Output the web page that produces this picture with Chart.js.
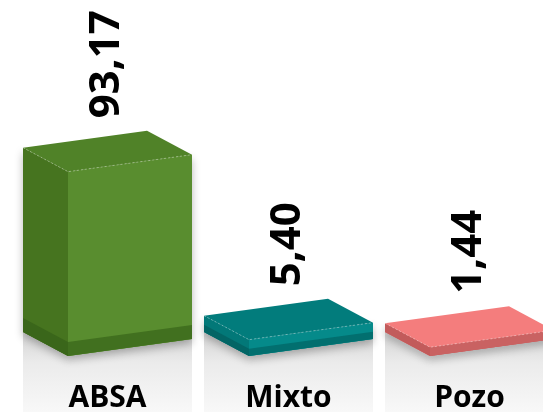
<!doctype html>
<html lang="es">
<head>
    <meta charset="utf-8">
    <title>ABSA / Mixto / Pozo</title>
    <style>
        * { margin: 0; padding: 0; }
        body { background: #fff; }
        .chartBox { width: 543px; height: 412px; }
    </style>
</head>
<body>
    <div class="chartBox">
        <canvas id="myChart"></canvas>
    </div>
    <script src="https://cdn.jsdelivr.net/npm/chart.js/dist/chart.umd.min.js"></script>
    <script>
        // data
        const categories = ['ABSA', 'Mixto', 'Pozo'];
        const values = [93.17, 5.40, 1.44];

        // colours per bar: front, left side, top, dark band front, dark band side
        const frontColors = ['#598d2f', '#058a8a', '#c96262'];
        const sideColors = ['#46741f', '#027878', '#d46d6d'];
        const topColors = ['#508228', '#027c7c', '#f47d7d'];
        const bandColors = ['#41701f', '#026f6f', '#c96262'];
        const bandSideColors = ['#3a661a', '#026565', '#c25b5b'];

        // 3d look
        const DX = 45, DY = 24, SLANT = 17, SLAB = 6, SHIFT = 39.5;

        function poly(ctx, pts, fill) {
            ctx.beginPath();
            ctx.moveTo(pts[0][0], pts[0][1]);
            for (let k = 1; k < pts.length; k++) ctx.lineTo(pts[k][0], pts[k][1]);
            ctx.closePath();
            ctx.fillStyle = fill;
            ctx.fill();
        }

        function geom(bar) {
            const w = bar.width;
            const xL = bar.x - w / 2 + SHIFT;
            const xR = xL + w;
            const yB = bar.base;
            const yT = bar.y - SLAB;
            return { xL, xR, yB, yT, h: yB - yT };
        }

        const bars3d = {
            id: 'bars3d',
            beforeDraw(chart) {
                const { ctx } = chart;
                const H = chart.height;
                const meta = chart.getDatasetMeta(0);
                ctx.save();
                meta.data.forEach((bar) => {
                    const { xL, xR, yB } = geom(bar);
                    const grad = ctx.createLinearGradient(0, yB - 20, 0, H);
                    grad.addColorStop(0, '#d6d6d6');
                    grad.addColorStop(0.35, '#ebebeb');
                    grad.addColorStop(1, '#f8f8f8');
                    poly(ctx, [[xL - DX, yB - DY], [xL, yB], [xR, yB - SLANT], [xR, H], [xL - DX, H]], grad);
                });
                ctx.restore();
            },
            afterDatasetsDraw(chart) {
                const { ctx } = chart;
                const meta = chart.getDatasetMeta(0);
                meta.data.forEach((bar, i) => {
                    const { xL, xR, yB, yT, h } = geom(bar);
                    const band = h < 12 ? h : Math.min(14, h * 0.45);

                    const front = [[xL, yB], [xR, yB - SLANT], [xR, yT - SLANT], [xL, yT]];
                    const side = [[xL - DX, yT - DY], [xL, yT], [xL, yB], [xL - DX, yB - DY]];
                    const topFace = [[xL, yT], [xR, yT - SLANT], [xR - DX, yT - SLANT - DY], [xL - DX, yT - DY]];

                    // soft shadow on the floor
                    ctx.save();
                    ctx.shadowColor = 'rgba(0,0,0,0.28)';
                    ctx.shadowBlur = 9;
                    ctx.shadowOffsetY = 4;
                    poly(ctx, front, frontColors[i]);
                    poly(ctx, side, sideColors[i]);
                    ctx.restore();

                    poly(ctx, front, frontColors[i]);
                    poly(ctx, side, sideColors[i]);
                    poly(ctx, [[xL, yB - band], [xR, yB - band - SLANT], [xR, yB - SLANT], [xL, yB]], bandColors[i]);
                    poly(ctx, [[xL - DX, yB - DY - band], [xL, yB - band], [xL, yB], [xL - DX, yB - DY]], bandSideColors[i]);
                    poly(ctx, topFace, topColors[i]);

                    // light edges
                    ctx.save();
                    ctx.strokeStyle = 'rgba(255,255,255,0.35)';
                    ctx.lineWidth = 1;
                    ctx.setLineDash([2, 2]);
                    ctx.beginPath();
                    ctx.moveTo(xL - DX, yT - DY);
                    ctx.lineTo(xL, yT);
                    ctx.lineTo(xR, yT - SLANT);
                    ctx.stroke();
                    ctx.restore();

                    // value label
                    const cy = yT - SLANT / 2 - DY / 2;
                    ctx.save();
                    ctx.translate(bar.x + 17, cy - 33);
                    ctx.rotate(-Math.PI / 2);
                    ctx.font = 'bold 42px "Open Sans"';
                    ctx.fillStyle = '#000';
                    ctx.textAlign = 'left';
                    ctx.textBaseline = 'middle';
                    ctx.fillText(values[i].toFixed(2).replace('.', ','), 0, 0);
                    ctx.restore();
                });
            }
        };

        const data = {
            labels: categories,
            datasets: [{
                data: values,
                backgroundColor: 'rgba(0,0,0,0)',
                borderWidth: 0,
                categoryPercentage: 1,
                barPercentage: 124 / 181
            }]
        };

        const config = {
            type: 'bar',
            data,
            options: {
                responsive: true,
                maintainAspectRatio: false,
                devicePixelRatio: 1,
                animation: false,
                layout: { padding: 0 },
                plugins: {
                    legend: { display: false },
                    tooltip: { enabled: false }
                },
                scales: {
                    x: {
                        grid: { display: false, drawTicks: false },
                        border: { display: false },
                        afterFit(scale) { scale.height = 56; },
                        ticks: {
                            color: '#000',
                            font: { family: 'Open Sans', size: 30, weight: 'bold' },
                            padding: 24,
                            labelOffset: 17,
                            maxRotation: 0,
                            autoSkip: false
                        }
                    },
                    y: {
                        display: false,
                        min: 0,
                        max: 186
                    }
                }
            },
            plugins: [bars3d]
        };

        const myChart = new Chart(document.getElementById('myChart'), config);
    </script>
</body>
</html>
